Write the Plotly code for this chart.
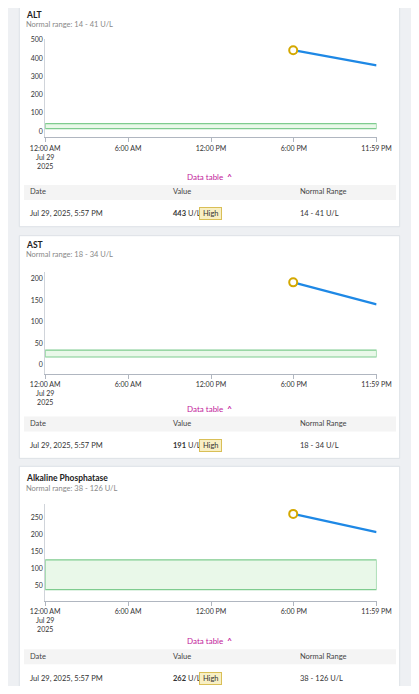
import plotly.graph_objects as go

W, H = 419, 694
OFF = 8  # page body margin
FW, FH = W - 2 * OFF, H - 2 * OFF

tests = ["ALT", "AST", "Alkaline Phosphatase"]
normal_low = [14, 18, 38]
normal_high = [41, 34, 126]
result_values = [443, 191, 262]
trend_end_values = [360, 140, 208]
result_time = "2025-07-29 17:57"
end_time = "2025-07-29 23:59"
result_label = "Jul 29, 2025, 5:57 PM"
unit = "U/L"
tick_times = ["2025-07-29 00:00", "2025-07-29 06:00", "2025-07-29 12:00",
              "2025-07-29 18:00", "2025-07-29 23:59"]
tick_text = ["12:00 AM<br>Jul 29<br>2025", "6:00 AM", "12:00 PM", "6:00 PM", "11:59 PM"]
y_ranges = [[-33, 505], [-21, 214], [6, 291]]
y_dticks = [100, 50, 50]

# layout in screen pixels: card top/bottom, plot top/bottom, title offset, table offset
cards = [(2, 224, 35, 134, 9, 172), (233, 457, 270, 372, 9, 174), (465, 692, 503, 600, 12, 176)]
PX0, PX1 = 32, 390


def fx(px):
    return (px - OFF) / FW


def fy(py):
    return 1 - (py - OFF) / FH


fig = go.Figure()
shapes, annos = [], []
FONT = "Lato"
for i, name in enumerate(tests):
    top, bot, pt, pb, toff, tab = cards[i]
    n = "" if i == 0 else str(i + 1)
    xa, ya = "x" + n, "y" + n
    fig.add_trace(go.Scatter(x=[result_time, end_time], y=[result_values[i], trend_end_values[i]],
                             mode="lines", line=dict(color="#1e88e5", width=2.2),
                             xaxis=xa, yaxis=ya, showlegend=False))
    fig.add_trace(go.Scatter(x=[result_time], y=[result_values[i]], mode="markers",
                             marker=dict(size=8, color="white", line=dict(color="#d4a800", width=2)),
                             xaxis=xa, yaxis=ya, showlegend=False))
    fig.update_layout(**{
        "xaxis" + n: dict(domain=[fx(PX0), fx(PX1)], anchor=ya, type="date",
                          range=["2025-07-29 00:00", end_time], tickvals=tick_times, ticktext=tick_text,
                          showgrid=False, showline=True, linecolor="#b0b6c0", ticks="outside",
                          ticklen=4, tickcolor="#b0b6c0", tickfont=dict(size=7, color="#333")),
        "yaxis" + n: dict(domain=[fy(pb), fy(pt)], anchor=xa, range=y_ranges[i], dtick=y_dticks[i],
                          showgrid=False, zeroline=False, showline=True, linecolor="#d0d4da",
                          tickfont=dict(size=7, color="#333")),
    })
    shapes.append(dict(type="rect", xref="paper", yref="paper", x0=fx(4), x1=fx(415),
                       y0=fy(bot), y1=fy(top), fillcolor="white", line=dict(color="#dde1e6", width=1),
                       layer="below"))
    shapes.append(dict(type="rect", xref=xa, yref=ya, x0="2025-07-29 00:00", x1=end_time,
                       y0=normal_low[i], y1=normal_high[i], fillcolor="#e9f8e9",
                       line=dict(color="#7fcc8f", width=1.2), layer="below"))
    shapes.append(dict(type="rect", xref="paper", yref="paper", x0=fx(9), x1=fx(411),
                       y0=fy(top + tab + 23), y1=fy(top + tab + 8), fillcolor="#f4f4f4",
                       line=dict(width=0), layer="below"))
    annos += [
        dict(text="<b>%s</b>" % name, x=fx(9), y=fy(top + toff), font=dict(size=8.5, color="#222")),
        dict(text="Normal range: %d - %d %s" % (normal_low[i], normal_high[i], unit), x=fx(9),
             y=fy(top + toff + 10), font=dict(size=7.5, color="#888")),
        dict(text="Data table  <b>^</b>", x=fx(210), xanchor="center", y=fy(top + tab),
             font=dict(size=8, color="#c2189b")),
        dict(text="Date", x=fx(13), y=fy(top + tab + 15), font=dict(size=7.5, color="#444")),
        dict(text="Value", x=fx(168), y=fy(top + tab + 15), font=dict(size=7.5, color="#444")),
        dict(text="Normal Range", x=fx(305), y=fy(top + tab + 15), font=dict(size=7.5, color="#444")),
        dict(text=result_label, x=fx(13), y=fy(top + tab + 37), font=dict(size=7.5, color="#333")),
        dict(text="<b>%d</b> %s" % (result_values[i], unit), x=fx(168), y=fy(top + tab + 37),
             font=dict(size=7.5, color="#333")),
        dict(text=" High ", x=fx(198), y=fy(top + tab + 37), bgcolor="#f8efc4", bordercolor="#d9bf57",
             borderwidth=1, borderpad=1, font=dict(size=7.5, color="#333")),
        dict(text="%d - %d %s" % (normal_low[i], normal_high[i], unit), x=fx(305), y=fy(top + tab + 37),
             font=dict(size=7.5, color="#333")),
    ]

for a in annos:
    a.update(xref="paper", yref="paper", showarrow=False, yanchor="middle")
    a.setdefault("xanchor", "left")

fig.update_layout(width=FW, height=FH, margin=dict(l=0, r=0, t=0, b=0),
                  paper_bgcolor="#eef0f3", plot_bgcolor="rgba(0,0,0,0)",
                  font=dict(family=FONT), shapes=shapes, annotations=annos)
fig.write_html("out.html")
